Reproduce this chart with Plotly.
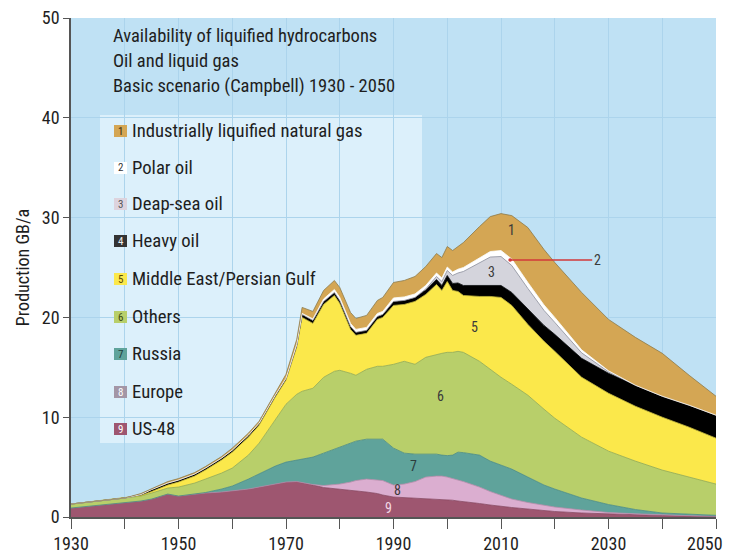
import plotly.graph_objects as go

# ---------------- data ----------------
years = [1930, 1935, 1940, 1943, 1945, 1948, 1950, 1953, 1955, 1958, 1960, 1963, 1965, 1968,
         1970, 1972, 1973, 1975, 1977, 1979, 1980, 1982, 1983, 1985, 1987, 1988, 1990, 1992,
         1994, 1996, 1998, 1999, 2000, 2001, 2002, 2003, 2006, 2008, 2010, 2012, 2015, 2018,
         2020, 2025, 2030, 2035, 2040, 2045, 2050]

us48 = [0.9, 1.15, 1.4, 1.6, 1.8, 2.3, 2.1, 2.3, 2.4, 2.5, 2.6, 2.8, 3.0, 3.3,
        3.5, 3.55, 3.45, 3.2, 2.95, 2.85, 2.8, 2.7, 2.65, 2.5, 2.35, 2.2, 2.0, 1.95,
        1.9, 1.85, 1.8, 1.75, 1.7, 1.68, 1.6, 1.55, 1.35, 1.2, 1.05, 0.95, 0.8, 0.65,
        0.55, 0.4, 0.3, 0.22, 0.15, 0.1, 0.05]

europe = [0, 0, 0, 0, 0, 0, 0, 0, 0, 0, 0, 0, 0, 0,
          0, 0, 0, 0.05, 0.2, 0.4, 0.5, 0.8, 1.0, 1.3, 1.4, 1.45, 1.2, 1.35,
          1.65, 2.15, 2.3, 2.35, 2.3, 2.2, 2.1, 2.0, 1.65, 1.35, 1.15, 0.85, 0.65, 0.5,
          0.45, 0.3, 0.15, 0.1, 0.05, 0.03, 0.03]

russia = [0, 0, 0, 0, 0, 0, 0, 0, 0.05, 0.3, 0.5, 1.0, 1.3, 1.8,
          2.0, 2.15, 2.35, 2.75, 3.25, 3.55, 3.7, 3.9, 3.95, 4.0, 4.1, 4.15, 3.7, 3.1,
          2.75, 2.3, 2.2, 2.1, 2.15, 2.32, 2.8, 2.9, 3.2, 3.05, 3.0, 3.0, 2.55, 2.05,
          1.8, 1.2, 0.8, 0.43, 0.2, 0.12, 0.09]

others = [0.4, 0.45, 0.5, 0.5, 0.6, 0.6, 0.9, 1.1, 1.35, 1.6, 1.8, 2.4, 3.1, 4.7,
          5.8, 6.6, 6.8, 6.9, 7.6, 7.8, 7.7, 7.0, 6.6, 7.0, 7.25, 7.3, 8.4, 9.2,
          9.0, 9.7, 10.0, 10.2, 10.35, 10.3, 10.1, 10.05, 9.4, 9.2, 8.8, 8.5, 8.2, 7.6,
          7.1, 6.1, 5.35, 4.85, 4.3, 3.75, 3.13]

middle_east = [0, 0, 0, 0.05, 0.15, 0.3, 0.5, 0.7, 0.9, 1.3, 1.6, 1.8, 1.8, 2.2,
               2.4, 4.7, 7.4, 6.5, 7.3, 7.6, 6.7, 4.4, 4.0, 3.6, 4.7, 4.9, 5.9, 5.7,
               6.3, 6.3, 7.0, 6.3, 7.1, 6.2, 6.0, 5.7, 6.5, 7.3, 8.0, 7.9, 7.1, 6.8,
               6.7, 6.0, 5.8, 5.5, 5.3, 5.0, 4.6]

heavy_oil = [0, 0, 0, 0.1, 0.2, 0.2, 0.2, 0.2, 0.2, 0.2, 0.2, 0.2, 0.2, 0.2,
             0.2, 0.25, 0.3, 0.3, 0.3, 0.3, 0.3, 0.3, 0.3, 0.3, 0.3, 0.3, 0.4, 0.4,
             0.4, 0.45, 0.5, 0.5, 0.6, 0.7, 0.85, 1.0, 1.1, 1.15, 1.2, 1.3, 1.5, 1.6,
             1.7, 1.9, 2.0, 2.1, 2.1, 2.2, 2.3]

deep_sea = [0, 0, 0, 0, 0, 0, 0, 0, 0, 0, 0, 0, 0, 0,
            0, 0, 0, 0, 0, 0, 0, 0, 0, 0, 0, 0, 0, 0,
            0, 0.1, 0.3, 0.4, 0.5, 0.8, 1.0, 1.4, 2.3, 2.8, 2.9, 2.7, 2.1, 1.5,
            1.2, 0.55, 0.15, 0, 0, 0, 0]

polar = [0, 0, 0, 0, 0, 0, 0, 0, 0, 0, 0, 0, 0, 0,
         0, 0.05, 0.1, 0.15, 0.25, 0.3, 0.3, 0.3, 0.3, 0.3, 0.3, 0.3, 0.35, 0.35,
         0.35, 0.35, 0.35, 0.35, 0.35, 0.35, 0.38, 0.4, 0.5, 0.55, 0.6, 0.65, 0.6, 0.55,
         0.5, 0.3, 0.1, 0, 0, 0, 0]

lng = [0, 0, 0, 0.1, 0.1, 0.15, 0.15, 0.15, 0.15, 0.15, 0.2, 0.2, 0.2, 0.3,
       0.4, 0.5, 0.6, 0.75, 0.85, 0.9, 1.0, 1.1, 1.1, 1.2, 1.3, 1.4, 1.55, 1.65,
       1.75, 1.9, 1.95, 2.05, 2.05, 2.15, 2.27, 2.5, 3.1, 3.5, 3.7, 4.35, 5.5, 5.55,
       5.5, 5.75, 5.15, 4.8, 4.3, 3.0, 1.9]

legend_names = ["Industrially liquified natural gas", "Polar oil", "Deap-sea oil", "Heavy oil",
                "Middle East/Persian Gulf", "Others", "Russia", "Europe", "US-48"]
legend_nums = ["1", "2", "3", "4", "5", "6", "7", "8", "9"]

title_lines = ["Availability of liquified hydrocarbons", "Oil and liquid gas",
               "Basic scenario (Campbell) 1930 - 2050"]

x_ticks = list(range(1930, 2051, 10))
x_last_label = "2050"
x_tick_text = [str(v) if (v - 1930) % 20 == 0 and v != 2050 else "" for v in x_ticks]

# ---------------- styling ----------------
FONT = "Liberation Sans Narrow, Arial Narrow, Roboto Condensed, sans-serif"
BG = "#bfe1f4"
BOX = "#dcf0fb"
GRID = "#acd4ec"
AX = "#555555"

layers = [  # bottom -> top
    ("US-48", us48, "#9e5670", "#8a4660"),
    ("Europe", europe, "#dbaed0", "#b88aa8"),
    ("Russia", russia, "#5fa39b", "#4a8a82"),
    ("Others", others, "#b8cf6a", "#93a94c"),
    ("Middle East/Persian Gulf", middle_east, "#fbe84b", "#c8b830"),
    ("Heavy oil", heavy_oil, "#000000", "#000000"),
    ("Deap-sea oil", deep_sea, "#d4d4dc", "#8d8d99"),
    ("Polar oil", polar, "#ffffff", "#ffffff"),
    ("Industrially liquified natural gas", lng, "#d4a654", "#8c7a4a"),
]

fig = go.Figure()
for name, vals, fill, line in layers:
    fig.add_trace(go.Scatter(
        x=years, y=vals, name=name, stackgroup="one", mode="lines",
        line=dict(color=line, width=0.8), fillcolor=fill, showlegend=False,
    ))

W, H = 729, 553
L, R, T, B = 71, 13, 18, 36
PW, PH = W - L - R, H - T - B


def px2paper_x(px):
    return (px - L) / PW


def px2paper_y(py):
    return (H - B - py) / PH


shapes = []
annotations = []

# light legend / title box
shapes.append(dict(type="rect", xref="paper", yref="paper",
                   x0=px2paper_x(100), x1=px2paper_x(422),
                   y0=px2paper_y(443), y1=px2paper_y(115),
                   fillcolor=BOX, line=dict(width=0), layer="between"))

# title lines
for i, t in enumerate(title_lines):
    annotations.append(dict(text=t, xref="paper", yref="paper",
                            x=px2paper_x(111), y=px2paper_y(36 + 25 * i),
                            xanchor="left", yanchor="middle", showarrow=False,
                            font=dict(family=FONT, size=18.5, color="#1e1e1e")))

# custom legend
icon_fill = ["#d4a654", "#ffffff", "#ddd3dd", "#333333", "#fbe84b", "#b8cf6a", "#5fa39b", "#a396a6", "#9e5670"]
icon_text = ["#3a2a10", "#333333", "#555555", "#eeeeee", "#5a4a00", "#3d4a10", "#1d3d3a", "#ffffff", "#ffffff"]
legend_y = [131, 168, 204, 241, 279, 317, 354, 392, 429]
for name, num, fc, tc, py in zip(legend_names, legend_nums, icon_fill, icon_text, legend_y):
    shapes.append(dict(type="rect", xref="paper", yref="paper",
                       x0=px2paper_x(114), x1=px2paper_x(127),
                       y0=px2paper_y(py + 6), y1=px2paper_y(py - 6),
                       fillcolor=fc, line=dict(width=0), layer="above"))
    annotations.append(dict(text=num, xref="paper", yref="paper",
                            x=px2paper_x(120.5), y=px2paper_y(py), xanchor="center", yanchor="middle",
                            showarrow=False, font=dict(family=FONT, size=11, color=tc)))
    annotations.append(dict(text=name, xref="paper", yref="paper",
                            x=px2paper_x(130), y=px2paper_y(py), xanchor="left", yanchor="middle",
                            showarrow=False, font=dict(family=FONT, size=18.7, color="#1e1e1e")))

# last x tick label, kept inside the page (right-aligned like the reference)
annotations.append(dict(text=x_last_label, xref="paper", yref="paper",
                        x=px2paper_x(725), y=px2paper_y(543), xanchor="right", yanchor="middle",
                        showarrow=False, font=dict(family=FONT, size=18, color="#1e1e1e")))

# in-chart layer numbers
label_pos = [("1", 2012.0, 28.8, "#3a3a3a"), ("3", 2008.3, 24.5, "#3a3a3a"),
             ("5", 2005.0, 19.0, "#3a3a3a"), ("6", 1998.8, 12.1, "#3a3a3a"),
             ("7", 1993.8, 5.1, "#2d3d3d"), ("8", 1990.8, 2.7, "#3a3a3a"),
             ("9", 1989.0, 0.9, "#f2d8e4")]
for t, x, y, c in label_pos:
    annotations.append(dict(text=t, x=x, y=y, xref="x", yref="y", showarrow=False,
                            font=dict(family=FONT, size=14, color=c)))

annotations.append(dict(text="2", x=2011.7, y=25.75, xref="x", yref="y",
                        ax=2027.9, ay=25.75, axref="x", ayref="y",
                        showarrow=True, arrowhead=6, arrowsize=0.6, arrowwidth=1.5,
                        arrowcolor="#d23a3a", standoff=0, startstandoff=0,
                        font=dict(family=FONT, size=14, color="#3a3a3a")))

fig.update_layout(
    width=W, height=H,
    margin=dict(l=L, r=R, t=T, b=B, pad=0),
    paper_bgcolor="white", plot_bgcolor=BG,
    font=dict(family=FONT, size=16, color="#1e1e1e"),
    shapes=shapes, annotations=annotations, showlegend=False,
    xaxis=dict(range=[1930, 2050], tickvals=x_ticks, ticktext=x_tick_text,
               ticks="outside", ticklen=10, tickwidth=1.2, tickcolor=AX,
               showline=True, linecolor=AX, linewidth=1.5,
               showgrid=True, gridcolor=GRID, gridwidth=1, zeroline=False,
               tickfont=dict(family=FONT, size=18, color="#1e1e1e"), automargin=False),
    yaxis=dict(range=[0, 50], tickvals=[0, 10, 20, 30, 40, 50],
               ticks="outside", ticklen=6, tickwidth=1.2, tickcolor=AX,
               showline=True, linecolor=AX, linewidth=1.5,
               showgrid=True, gridcolor=GRID, gridwidth=1, zeroline=False,
               tickfont=dict(family=FONT, size=18, color="#1e1e1e"),
               title=dict(text="Production GB/a", font=dict(family=FONT, size=18, color="#1e1e1e"),
                          standoff=8),
               automargin=False),
)

fig.write_html("out.html", config={"displayModeBar": False},
               post_script="document.body.style.margin='0';document.body.style.overflow='hidden';")
